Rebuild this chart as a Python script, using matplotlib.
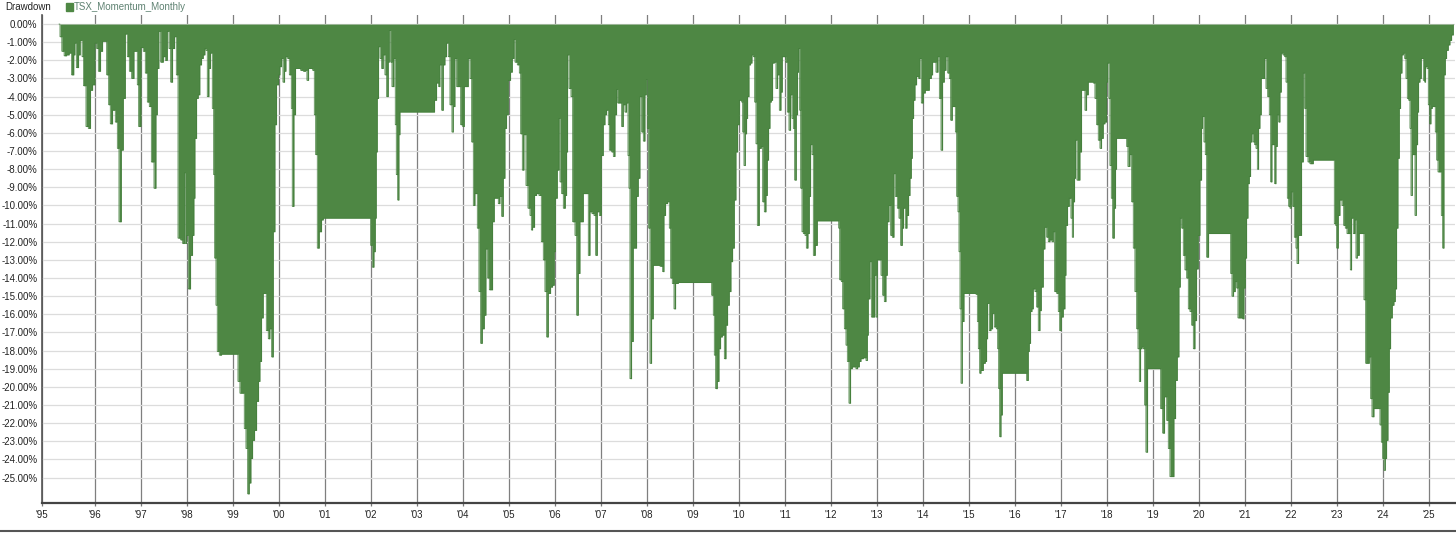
import numpy as np
import matplotlib.pyplot as plt
from matplotlib.lines import Line2D
from matplotlib.patches import Rectangle

plt.rcParams['font.family'] = ['Liberation Sans', 'DejaVu Sans']

# drawdown of TSX_Momentum_Monthly (date as decimal year, drawdown in %)
dates_1995 = [1995.22, 1995.24, 1995.28, 1995.33, 1995.385, 1995.44, 1995.49, 1995.54, 1995.565, 1995.595,
              1995.645, 1995.68, 1995.72, 1995.75, 1995.805, 1995.855, 1995.905, 1995.95, 1996.0, 1996.037,
              1996.073, 1996.123, 1996.167, 1996.225, 1996.254, 1996.297, 1996.333, 1996.384, 1996.442, 1996.486,
              1996.522, 1996.573, 1996.616, 1996.66, 1996.703, 1996.747, 1996.797, 1996.848, 1996.891, 1996.92,
              1996.949, 1997.0, 1997.05, 1997.094, 1997.138, 1997.181, 1997.225, 1997.283, 1997.326, 1997.355,
              1997.39, 1997.428, 1997.486, 1997.529, 1997.573, 1997.609, 1997.645, 1997.688, 1997.732, 1997.768,
              1997.805, 1997.862, 1997.905, 1997.945, 1997.965, 1997.992, 1998.028, 1998.079, 1998.122, 1998.151,
              1998.173, 1998.21, 1998.245, 1998.28, 1998.318, 1998.354, 1998.39, 1998.412, 1998.441, 1998.477,
              1998.513, 1998.55, 1998.579, 1998.6, 1998.63, 1998.658, 1998.702, 1998.753, 1999.079, 1999.108,
              1999.151, 1999.209, 1999.245, 1999.282, 1999.318, 1999.354, 1999.39, 1999.427, 1999.47, 1999.514,
              1999.557, 1999.586, 1999.622, 1999.658, 1999.695, 1999.724, 1999.767, 1999.803, 1999.839, 1999.876,
              1999.912, 1999.948, 1999.992, 2000.02, 2000.057, 2000.086, 2000.122, 2000.151, 2000.187, 2000.224,
              2000.267, 2000.288, 2000.325, 2000.361, 2000.419, 2000.47, 2000.528, 2000.578, 2000.607, 2000.644,
              2000.687, 2000.731, 2000.767, 2000.796, 2000.832, 2000.876, 2000.926, 2000.962]
dd_1995 = [0, 0.7, 1.5, 1.75, 1.7, 1.6, 2.8, 1.7, 1.05, 2.4,
           1.7, 0.9, 1.8, 3.4, 5.65, 5.75, 3.65, 3.35, 1.05, 1.35,
           2.6, 1.5, 0.95, 0.95, 2.8, 4.45, 5.5, 4.75, 5.4, 6.85,
           10.9, 6.95, 4.1, 0.55, 1.8, 2.6, 3.0, 1.5, 1.5, 3.35,
           5.65, 1.3, 1.5, 2.7, 4.3, 4.55, 7.6, 9.05, 5.0, 2.45,
           0.4, 2.1, 1.8, 2.0, 0.4, 1.35, 3.2, 1.35, 0.7, 2.8,
           11.8, 11.9, 12.1, 8.2, 12.1, 11.65, 14.6, 12.75, 11.65, 9.6,
           6.3, 4.1, 3.9, 2.25, 1.9, 1.7, 1.35, 1.45, 4.0, 2.45,
           1.6, 4.65, 8.3, 12.9, 15.5, 18.05, 18.25, 18.2, 18.2, 19.7,
           20.35, 20.35, 22.3, 23.4, 25.9, 25.3, 23.95, 22.95, 22.4, 20.8,
           19.7, 18.6, 16.2, 14.85, 14.85, 16.9, 17.35, 16.8, 18.35, 11.45,
           5.55, 3.35, 2.8, 2.35, 1.9, 3.2, 2.6, 1.8, 1.9, 2.8,
           4.65, 10.05, 5.0, 2.45, 2.45, 2.55, 2.6, 2.55, 3.1, 2.45,
           2.45, 2.55, 5.0, 7.2, 12.35, 11.45, 10.8, 10.7]

dates_2002 = [2001.977, 2001.991, 2002.027, 2002.064, 2002.093, 2002.114, 2002.136, 2002.165, 2002.194, 2002.23,
              2002.266, 2002.303, 2002.339, 2002.375, 2002.397, 2002.426, 2002.455, 2002.498, 2002.527, 2002.549,
              2002.578, 2002.607, 2002.629, 2003.353, 2003.382, 2003.426, 2003.469, 2003.498, 2003.535, 2003.571,
              2003.607, 2003.643, 2003.679, 2003.716, 2003.759, 2003.788, 2003.824, 2003.861, 2003.919, 2003.948,
              2003.991, 2004.027, 2004.078, 2004.114, 2004.15, 2004.187, 2004.223, 2004.259, 2004.31, 2004.346,
              2004.382, 2004.419, 2004.462, 2004.498, 2004.534, 2004.571, 2004.614, 2004.643, 2004.679, 2004.73,
              2004.766, 2004.802, 2004.839, 2004.875, 2004.911, 2004.947, 2004.984, 2005.034, 2005.071, 2005.107,
              2005.129, 2005.179, 2005.223, 2005.252, 2005.288, 2005.324, 2005.368, 2005.411, 2005.455, 2005.484,
              2005.513, 2005.556, 2005.6, 2005.65, 2005.701, 2005.744, 2005.78, 2005.817, 2005.853, 2005.904,
              2005.947, 2005.983, 2006.005, 2006.049, 2006.085, 2006.107, 2006.143, 2006.179, 2006.223, 2006.252,
              2006.273, 2006.302, 2006.346, 2006.382, 2006.433, 2006.469, 2006.505, 2006.541, 2006.578, 2006.614,
              2006.672, 2006.722, 2006.759, 2006.802, 2006.846, 2006.882, 2006.918, 2006.962, 2007.005, 2007.048,
              2007.085, 2007.121, 2007.157, 2007.179, 2007.23, 2007.266, 2007.302, 2007.338, 2007.36, 2007.411,
              2007.447, 2007.483, 2007.519, 2007.556, 2007.585, 2007.606, 2007.628, 2007.664, 2007.7, 2007.744,
              2007.773, 2007.809, 2007.845, 2007.882, 2007.918, 2007.954, 2007.983, 2008.005, 2008.034, 2008.063,
              2008.099, 2008.135, 2008.28, 2008.338, 2008.367, 2008.403, 2008.447, 2008.483, 2008.512, 2008.548,
              2008.585, 2008.621, 2008.679, 2009.367, 2009.403, 2009.439, 2009.461, 2009.49, 2009.526, 2009.563,
              2009.599, 2009.635, 2009.679, 2009.715, 2009.751, 2009.787, 2009.823, 2009.86, 2009.896, 2009.932,
              2009.968, 2010.005, 2010.055, 2010.077, 2010.106, 2010.135, 2010.164, 2010.186, 2010.215, 2010.251,
              2010.28, 2010.309, 2010.338, 2010.367, 2010.396, 2010.439, 2010.483, 2010.512, 2010.548, 2010.584,
              2010.613, 2010.642, 2010.671, 2010.7, 2010.729, 2010.765, 2010.801, 2010.838, 2010.874, 2010.91,
              2010.939, 2010.975]
dd_2002 = [10.7, 12.2, 13.4, 12.55, 10.7, 7.05, 4.1, 1.25, 1.9, 2.45,
           1.7, 2.8, 4.0, 2.1, 0.35, 2.1, 3.45, 1.9, 5.55, 8.3,
           9.7, 6.1, 4.85, 4.85, 4.2, 3.25, 3.45, 2.25, 4.75, 2.25,
           1.8, 1.05, 1.8, 4.45, 5.95, 4.55, 1.9, 3.45, 3.45, 5.55,
           5.65, 3.45, 3.45, 1.9, 3.0, 6.5, 10.0, 9.35, 11.25, 14.75,
           17.6, 16.8, 16.05, 12.4, 14.0, 14.65, 14.65, 10.9, 9.6, 9.6,
           9.9, 9.5, 10.6, 8.5, 5.75, 5.0, 3.1, 2.65, 1.9, 0.85,
           2.1, 2.25, 2.7, 6.05, 8.05, 6.1, 8.9, 10.15, 10.55, 11.35,
           11.2, 9.45, 9.35, 9.45, 12.0, 13.0, 14.75, 17.25, 14.85, 14.5,
           14.4, 12.55, 9.6, 8.05, 5.2, 8.7, 9.35, 10.15, 9.45, 7.05,
           1.7, 3.55, 4.0, 10.9, 11.65, 16.05, 13.75, 10.9, 10.9, 9.35,
           9.35, 12.75, 10.35, 10.45, 10.55, 12.75, 10.35, 10.55, 7.25, 5.55,
           5.0, 4.75, 5.55, 6.95, 7.05, 7.3, 5.0, 3.6, 4.35, 4.35,
           5.65, 4.45, 4.85, 4.35, 7.25, 9.05, 19.55, 17.5, 12.35, 12.35,
           9.5, 8.5, 4.0, 5.95, 6.45, 3.9, 3.05, 5.75, 11.25, 18.7,
           16.25, 13.3, 13.35, 13.65, 10.55, 9.9, 9.8, 11.25, 14.0, 14.3,
           15.7, 14.3, 14.25, 14.25, 14.95, 16.05, 18.25, 20.1, 19.7, 17.9,
           17.25, 17.15, 18.45, 16.6, 15.5, 14.75, 13.1, 12.35, 9.7, 7.05,
           5.55, 4.2, 4.3, 5.95, 7.8, 6.05, 5.2, 4.0, 2.25, 2.15,
           1.7, 1.8, 4.3, 6.6, 11.1, 6.85, 6.75, 9.8, 10.35, 9.45,
           7.5, 5.75, 4.3, 4.2, 2.15, 2.1, 3.55, 2.8, 4.75, 3.75,
           1.8, 1.8]

dates_2011 = [2011.012, 2011.048, 2011.084, 2011.12, 2011.149, 2011.178, 2011.207, 2011.243, 2011.272, 2011.294,
              2011.316, 2011.338, 2011.367, 2011.396, 2011.432, 2011.461, 2011.497, 2011.526, 2011.555, 2011.584,
              2011.613, 2011.656, 2011.7, 2012.142, 2012.164, 2012.186, 2012.222, 2012.251, 2012.287, 2012.323,
              2012.352, 2012.388, 2012.424, 2012.461, 2012.504, 2012.54, 2012.577, 2012.613, 2012.649, 2012.7,
              2012.758, 2012.787, 2012.808, 2012.845, 2012.874, 2012.917, 2012.946, 2012.975, 2013.004, 2013.062,
              2013.084, 2013.12, 2013.156, 2013.192, 2013.221, 2013.258, 2013.294, 2013.33, 2013.366, 2013.395,
              2013.439, 2013.475, 2013.511, 2013.547, 2013.576, 2013.613, 2013.649, 2013.685, 2013.714, 2013.743,
              2013.765, 2013.794, 2013.823, 2013.859, 2013.902, 2013.931, 2013.96, 2014.004, 2014.047, 2014.091,
              2014.134, 2014.178, 2014.207, 2014.243, 2014.279, 2014.323, 2014.352, 2014.388, 2014.424, 2014.46,
              2014.497, 2014.533, 2014.569, 2014.598, 2014.634, 2014.671, 2014.7, 2014.728, 2014.757, 2014.779,
              2014.801, 2014.823, 2014.851, 2014.888, 2015.149, 2015.178, 2015.199, 2015.228, 2015.257, 2015.308,
              2015.351, 2015.38, 2015.402, 2015.438, 2015.474, 2015.511, 2015.547, 2015.59, 2015.619, 2015.641,
              2015.663, 2015.692, 2015.721, 2016.23, 2016.249, 2016.285, 2016.307, 2016.336, 2016.365, 2016.394,
              2016.43, 2016.466, 2016.502, 2016.539, 2016.568, 2016.611, 2016.647, 2016.684, 2016.72, 2016.756,
              2016.8, 2016.829, 2016.858, 2016.901, 2016.937, 2016.966, 2017.002, 2017.046, 2017.082, 2017.104,
              2017.14, 2017.176, 2017.212, 2017.241, 2017.263, 2017.292, 2017.314, 2017.343, 2017.379, 2017.408,
              2017.444, 2017.481, 2017.517, 2017.553, 2017.589, 2017.698, 2017.734, 2017.77, 2017.806, 2017.843,
              2017.879, 2017.915, 2017.951, 2017.988, 2018.009, 2018.038, 2018.06, 2018.089, 2018.118, 2018.154,
              2018.183, 2018.205, 2018.386, 2018.422, 2018.451, 2018.495, 2018.531, 2018.567, 2018.603, 2018.64,
              2018.669, 2018.698, 2018.727, 2018.756, 2018.785, 2018.814, 2018.842, 2018.879, 2019.133]
dd_2011 = [2.1, 4.85, 5.85, 3.9, 5.2, 5.75, 8.6, 5.0, 2.65, 1.35,
           4.75, 9.05, 11.45, 11.55, 11.65, 12.35, 11.55, 9.5, 6.65, 7.2,
           12.75, 12.2, 10.85, 10.85, 11.25, 14.1, 14.2, 15.7, 16.8, 17.7,
           18.6, 20.9, 19.0, 18.9, 18.9, 19.0, 18.9, 18.6, 18.45, 18.4,
           18.55, 17.15, 15.15, 13.1, 16.15, 16.15, 13.85, 16.15, 13.0, 13.0,
           13.85, 14.95, 15.3, 13.85, 10.9, 10.0, 11.65, 11.75, 8.25, 9.5,
           10.15, 10.7, 12.2, 11.25, 10.15, 11.25, 10.55, 9.45, 8.5, 7.4,
           5.2, 4.2, 3.35, 2.9, 3.0, 1.9, 4.35, 3.8, 3.65, 3.65,
           3.0, 2.8, 2.1, 2.1, 2.65, 1.8, 4.1, 6.95, 3.2, 2.55,
           1.8, 2.7, 3.0, 5.3, 4.55, 4.55, 5.95, 9.5, 10.35, 12.55,
           15.7, 19.8, 16.4, 14.85, 14.9, 16.4, 17.9, 19.25, 19.1, 18.7,
           18.6, 17.35, 15.4, 16.9, 16.8, 15.95, 16.7, 16.8, 17.9, 20.1,
           22.75, 21.55, 19.25, 19.25, 19.65, 18.05, 17.6, 15.85, 15.7, 14.6,
           14.75, 15.6, 16.9, 15.8, 14.5, 12.4, 11.2, 11.75, 12.0, 11.9,
           12.0, 11.45, 14.75, 14.85, 15.85, 16.9, 16.15, 15.7, 13.85, 11.1,
           10.05, 9.6, 10.7, 11.75, 9.8, 8.5, 6.4, 8.6, 8.6, 7.05,
           3.65, 3.65, 4.75, 3.9, 3.2, 3.25, 4.1, 5.55, 6.4, 6.85,
           6.3, 5.5, 5.4, 3.2, 2.15, 4.1, 7.8, 9.6, 11.8, 10.15,
           8.0, 6.3, 6.3, 6.75, 7.85, 7.2, 9.8, 12.35, 14.75, 16.8,
           17.9, 19.7, 17.9, 17.8, 17.9, 21.0, 23.6, 19.0, 19.0]

dates_2019 = [2019.162, 2019.205, 2019.248, 2019.292, 2019.328, 2019.364, 2019.408, 2019.451, 2019.488, 2019.524,
              2019.56, 2019.589, 2019.618, 2019.654, 2019.69, 2019.727, 2019.763, 2019.799, 2019.835, 2019.872,
              2019.908, 2019.944, 2019.98, 2020.016, 2020.053, 2020.074, 2020.103, 2020.132, 2020.161, 2020.205,
              2020.654, 2020.683, 2020.712, 2020.748, 2020.784, 2020.813, 2020.842, 2020.944, 2020.973, 2021.002,
              2021.031, 2021.06, 2021.089, 2021.118, 2021.147, 2021.176, 2021.205, 2021.234, 2021.263, 2021.292,
              2021.32, 2021.349, 2021.393, 2021.422, 2021.451, 2021.487, 2021.523, 2021.552, 2021.581, 2021.61,
              2021.639, 2021.668, 2021.697, 2021.726, 2021.755, 2021.784, 2021.82, 2021.857, 2021.886, 2021.915,
              2021.944, 2021.973, 2022.001, 2022.03, 2022.067, 2022.103, 2022.125, 2022.161, 2022.19, 2022.226,
              2022.262, 2022.291, 2022.32, 2022.364, 2022.407, 2022.48, 2022.914, 2022.936, 2022.965, 2022.987,
              2023.023, 2023.059, 2023.103, 2023.139, 2023.175, 2023.212, 2023.284, 2023.313, 2023.349, 2023.385,
              2023.407, 2023.436, 2023.479, 2023.581, 2023.617, 2023.661, 2023.697, 2023.726, 2023.755, 2023.798,
              2023.9, 2023.929, 2023.958, 2023.987, 2024.016, 2024.045, 2024.074, 2024.103, 2024.132, 2024.161,
              2024.197, 2024.233, 2024.262, 2024.291, 2024.32, 2024.349, 2024.378, 2024.407, 2024.436, 2024.465,
              2024.494, 2024.523, 2024.552, 2024.581, 2024.603, 2024.632, 2024.661, 2024.69, 2024.719, 2024.748,
              2024.769, 2024.798, 2024.827, 2024.871, 2024.9, 2024.921, 2024.95, 2024.979, 2025.008, 2025.037,
              2025.066, 2025.131, 2025.161, 2025.19, 2025.262, 2025.291, 2025.32, 2025.349, 2025.378, 2025.414,
              2025.45, 2025.487, 2025.523]
dd_2019 = [21.2, 22.55, 20.55, 21.85, 23.4, 24.95, 24.95, 21.75, 19.65, 18.35,
           14.5, 10.7, 11.25, 12.75, 13.55, 14.0, 15.7, 15.85, 16.6, 17.9,
           16.35, 13.5, 11.65, 8.6, 5.75, 5.1, 6.5, 7.2, 12.85, 11.55,
           11.55, 13.75, 15.0, 14.75, 14.2, 14.55, 16.2, 16.25, 14.55, 12.9,
           10.7, 8.8, 8.4, 6.5, 6.05, 6.5, 6.65, 6.85, 8.0, 5.75,
           5.0, 3.0, 3.0, 1.9, 3.55, 4.0, 5.0, 8.7, 6.65, 6.65,
           8.8, 6.75, 5.0, 5.4, 3.75, 1.6, 1.7, 1.8, 3.2, 9.6,
           10.05, 10.15, 9.25, 10.05, 11.75, 12.35, 13.2, 11.65, 11.65, 7.6,
           2.7, 4.65, 7.3, 7.6, 7.7, 7.5, 7.5, 11.0, 11.1, 12.35,
           10.55, 9.7, 10.0, 11.1, 11.25, 11.55, 13.55, 10.7, 11.55, 10.8,
           12.9, 12.75, 11.55, 15.2, 18.7, 18.7, 18.35, 20.65, 21.65, 21.2,
           21.2, 22.1, 23.05, 23.95, 24.6, 23.95, 22.95, 20.3, 17.9, 16.2,
           15.5, 15.3, 14.6, 11.25, 7.4, 4.65, 2.7, 1.7, 1.6, 1.9,
           3.0, 4.1, 4.2, 5.75, 9.45, 7.2, 7.2, 10.55, 6.65, 4.85,
           3.2, 3.0, 1.9, 3.1, 3.2, 2.35, 2.45, 4.45, 5.5, 4.65,
           4.55, 5.95, 7.5, 8.15, 10.55, 12.35, 2.8, 1.9, 1.45, 1.15,
           0.9, 0.6, 0.05]

year_ticks = list(range(1996, 2026))
y_ticks = list(range(0, -26, -1))

dates = np.array(dates_1995 + dates_2002 + dates_2011 + dates_2019)
dd = -np.array(dd_1995 + dd_2002 + dd_2011 + dd_2019)

green = '#4e8744'
x_left = 1994.842

fig = plt.figure(figsize=(14.56, 5.35), dpi=100)
ax = fig.add_axes([0.0286, 0.0593, 0.9707, 0.9127])

ax.fill_between(dates, dd, 0, step='post', color=green, lw=0, zorder=2)
ax.step(dates, dd, where='post', color='#437e3b', lw=0.5, zorder=3)

ax.set_xlim(x_left, 2025.56)
ax.set_ylim(-26.42, 0.5)

ax.set_yticks(y_ticks)
ax.set_yticklabels(['%.2f%%' % v for v in y_ticks])
ax.set_xticks([x_left] + year_ticks)
ax.set_xticklabels(["'95"] + ["'%02d" % (y % 100) for y in year_ticks])

ax.tick_params(axis='y', length=0, pad=3, labelsize=7, labelcolor='#222222')
ax.tick_params(axis='x', length=2.5, width=0.9, color='#777777', pad=2, labelsize=7, labelcolor='#222222')
ax.yaxis.grid(True, color='#dcdcdc', lw=0.9)
ax.xaxis.grid(True, color='#7f7f7f', lw=0.9)
ax.set_axisbelow(True)

for s in ['top', 'right']:
    ax.spines[s].set_visible(False)
ax.spines['left'].set_color('#555555')
ax.spines['left'].set_linewidth(1.2)
ax.spines['bottom'].set_color('#444444')
ax.spines['bottom'].set_linewidth(1.6)

# header: title and legend
fig.text(5 / 1456, 1 - 7 / 535, 'Drawdown', fontsize=7, color='#222222', va='center', ha='left')
fig.patches.append(Rectangle((66 / 1456, 1 - 10.5 / 535), 6.5 / 1456, 7 / 535,
                             transform=fig.transFigure, color=green, figure=fig))
fig.text(73.5 / 1456, 1 - 7 / 535, 'TSX_Momentum_Monthly', fontsize=7, color='#5f8272', va='center', ha='left')

# frame line at the very bottom
fig.add_artist(Line2D([0, 1], [1 - 530.5 / 535, 1 - 530.5 / 535], transform=fig.transFigure,
                      color='#555555', lw=1.5))

fig.savefig('out.png', dpi=100)
